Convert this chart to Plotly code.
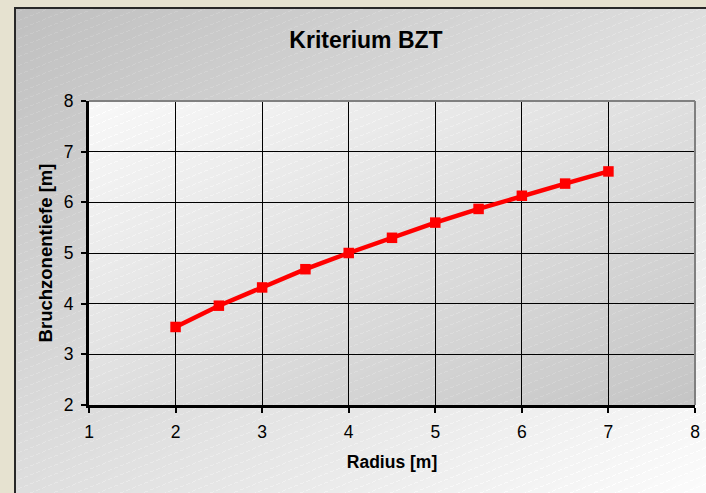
import base64
import struct
import zlib

import numpy as np
import plotly.graph_objects as go

# Fracture zone depth against radius
radius = [2.0, 2.5, 3.0, 3.5, 4.0, 4.5, 5.0, 5.5, 6.0, 6.5, 7.0]
depth = [3.54, 3.96, 4.32, 4.68, 5.00, 5.30, 5.60, 5.87, 6.13, 6.37, 6.61]

x_ticks = [1, 2, 3, 4, 5, 6, 7, 8]
y_ticks = [2, 3, 4, 5, 6, 7, 8]

title_text = "Kriterium BZT"
x_title = "Radius [m]"
y_title = "Bruchzonentiefe [m]"

# canvas and plot-area geometry
W, H = 706, 493
ML, MR, MT, MB = 89, 11, 101, 88
PW, PH = W - ML - MR, H - MT - MB
FONT = "Arial, Liberation Sans, sans-serif"


def png_data_uri(rgb):
    """Encode an HxWx3 uint8 array as a PNG data URI."""
    h, w, _ = rgb.shape
    raw = b"".join(b"\x00" + rgb[r].tobytes() for r in range(h))

    def chunk(tag, data):
        body = tag + data
        return struct.pack(">I", len(data)) + body + struct.pack(">I", zlib.crc32(body) & 0xFFFFFFFF)

    png = (b"\x89PNG\r\n\x1a\n"
           + chunk(b"IHDR", struct.pack(">IIBBBBB", w, h, 8, 2, 0, 0, 0))
           + chunk(b"IDAT", zlib.compress(raw, 9))
           + chunk(b"IEND", b""))
    return "data:image/png;base64," + base64.b64encode(png).decode()


# background: beige frame, grey chart panel with diagonal gradient,
# lighter plot area fading to grey, faint diagonal hatching
yy, xx = np.mgrid[0:H, 0:W].astype(float)
img = np.empty((H, W, 3), dtype=float)
img[:] = (230, 226, 208)

px0, py0 = 14, 7
panel = (xx >= px0) & (yy >= py0)
t = ((xx - px0) / (W - px0) + (yy - py0) / (H - py0)) / 2
v = 192 + 60 * t
for c in range(3):
    img[..., c] = np.where(panel, v, img[..., c])

plot = (xx >= ML) & (xx < ML + PW) & (yy >= MT) & (yy < MT + PH)
tp = ((xx - ML) / PW + (yy - MT) / PH) / 2
vp = 249 - 52 * tp
for c in range(3):
    img[..., c] = np.where(plot, vp, img[..., c])

hatch = panel & (((yy + 0.4 * xx) % 9) < 1.0) & ((xx % 6) < 4)
img[hatch] = np.minimum(img[hatch] + 8, 255)

border = panel & ((xx < px0 + 2) | (yy < py0 + 2))
img[border] = (40, 40, 40)

bg_uri = png_data_uri(np.clip(img, 0, 255).astype(np.uint8))

fig = go.Figure()
fig.add_trace(go.Scatter(
    x=radius, y=depth, mode="lines+markers",
    line=dict(color="#ff0000", width=4.5),
    marker=dict(symbol="square", size=10.5, color="#ff0000"),
    showlegend=False, cliponaxis=False,
))

axis_common = dict(
    showgrid=True, gridcolor="#000000", gridwidth=1,
    showline=True, linecolor="#000000", linewidth=3,
    ticks="outside", ticklen=5, tickwidth=2, tickcolor="#000000",
    tickfont=dict(family=FONT, size=17.5, color="#000000"),
    zeroline=False, fixedrange=True,
)

fig.update_xaxes(
    range=[1, 8], tickvals=x_ticks, ticklabelstandoff=4,
    title=dict(text=f"<b>{x_title}</b>", font=dict(family=FONT, size=17.5, color="#000000"),
               standoff=15),
    **axis_common,
)
fig.update_yaxes(
    range=[2, 8], tickvals=y_ticks, ticklabelstandoff=4,
    title=dict(text=f"<b>{y_title}</b>", font=dict(family=FONT, size=18.5, color="#000000"),
               standoff=7),
    **axis_common,
)

# grey frame on the top and right of the plot area
fig.add_shape(type="line", xref="x domain", yref="y domain", x0=0, x1=1, y0=1, y1=1,
              line=dict(color="#808080", width=2), layer="above")
fig.add_shape(type="line", xref="x domain", yref="y domain", x0=1, x1=1, y0=0, y1=1,
              line=dict(color="#808080", width=2), layer="above")

fig.add_layout_image(
    source=bg_uri, xref="paper", yref="paper",
    x=-ML / PW, y=1 + MT / PH, sizex=W / PW, sizey=H / PH,
    xanchor="left", yanchor="top", sizing="stretch", layer="below",
)

fig.update_layout(
    width=W, height=H,
    margin=dict(l=ML, r=MR, t=MT, b=MB, autoexpand=False),
    paper_bgcolor="#e6e2d0", plot_bgcolor="rgba(0,0,0,0)",
    title=dict(text=f"<b>{title_text}</b>", xref="container", yref="container",
               x=366 / W, y=1 - 40 / H, xanchor="center", yanchor="middle",
               font=dict(family=FONT, size=23, color="#000000")),
    font=dict(family=FONT, color="#000000"),
)

fig.write_html("out.html", config={"displayModeBar": False})
